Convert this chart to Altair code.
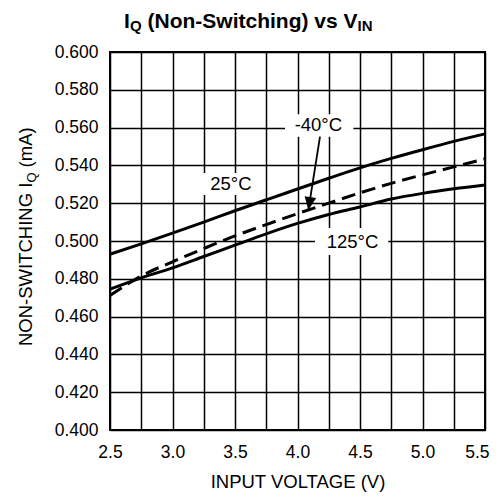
import altair as alt
import pandas as pd

# ---- data ----
vin = [2.5, 2.75, 3.0, 3.25, 3.5, 3.75, 4.0, 4.25, 4.5, 4.75, 5.0, 5.25, 5.5]
iq_25 = [0.4930, 0.4985, 0.5042, 0.5100, 0.5160, 0.5218, 0.5275, 0.5332, 0.5387, 0.5437, 0.5483, 0.5527, 0.5567]
iq_m40 = [0.4712, 0.4815, 0.4890, 0.4960, 0.5027, 0.5087, 0.5145, 0.5200, 0.5255, 0.5305, 0.5350, 0.5392, 0.5435]
iq_125 = [0.4745, 0.4805, 0.4858, 0.4918, 0.4978, 0.5038, 0.5093, 0.5140, 0.5180, 0.5222, 0.5252, 0.5276, 0.5296]

x_grid = [2.5, 2.75, 3.0, 3.25, 3.5, 3.75, 4.0, 4.25, 4.5, 4.75, 5.0, 5.25, 5.5]
y_ticks = [0.400, 0.420, 0.440, 0.460, 0.480, 0.500, 0.520, 0.540, 0.560, 0.580, 0.600]

label_text = ["25°C", "-40°C", "125°C"]
label_x = [3.467, 4.167, 4.44]
label_y = [0.5300, 0.5614, 0.4996]
box_x1 = [3.22, 3.90, 4.14]
box_x2 = [3.70, 4.447, 4.726]
box_y1 = [0.5243, 0.5552, 0.4926]
box_y2 = [0.5360, 0.5670, 0.5069]

arrow_x = [4.18, 4.087]
arrow_y = [0.5552, 0.5164]

FONT = "Liberation Sans"

curves = pd.DataFrame({
    "vin": vin * 3,
    "iq": iq_25 + iq_m40 + iq_125,
    "series": ["25"] * len(vin) + ["-40"] * len(vin) + ["125"] * len(vin),
})
labels = pd.DataFrame({"t": label_text, "x": label_x, "y": label_y})
boxes = pd.DataFrame({"x": box_x1, "x2": box_x2, "y": box_y1, "y2": box_y2})
arrow = pd.DataFrame({"x": arrow_x, "y": arrow_y, "o": [0, 1]})
tip = pd.DataFrame({"x": [arrow_x[1]], "y": [arrow_y[1]]})

xs = alt.Scale(domain=[2.5, 5.5], nice=False, zero=False)
ys = alt.Scale(domain=[0.4, 0.6], nice=False, zero=False)

x_axis = alt.Axis(
    values=x_grid,
    labelExpr="(datum.value * 4) % 2 == 0 ? format(datum.value, '.1f') : ''",
    labelAlign={"condition": {"test": "datum.value >= 5.5", "value": "right"}, "value": "center"},
    labelOffset={"condition": {"test": "datum.value >= 5.5", "value": 4}, "value": 0},
    grid=True, ticks=False, domain=False, labelOverlap=False, labelFlush=False,
    labelFontSize=17.5, labelPadding=13, labelColor="black", labelFont=FONT,
    title="INPUT VOLTAGE (V)", titleFontSize=18.5, titleFontWeight="normal",
    titleColor="black", titleFont=FONT, titlePadding=12,
)
y_axis = alt.Axis(
    values=y_ticks, format=".3f",
    grid=True, ticks=False, domain=False, labelOverlap=False, labelFlush=False,
    labelFontSize=17.5, labelPadding=12, labelColor="black", labelFont=FONT,
    title="",
)


def X(field):
    return alt.X(field, scale=xs, axis=x_axis, title="INPUT VOLTAGE (V)")


def Y(field):
    return alt.Y(field, scale=ys, axis=y_axis, title="")


box_layer = alt.Chart(boxes).mark_rect(color="white").encode(
    x=X("x:Q"), x2="x2:Q", y=Y("y:Q"), y2="y2:Q",
)

solid = alt.Chart(curves).transform_filter("datum.series != '-40'").mark_line(
    color="black", strokeWidth=3, interpolate="monotone"
).encode(x=X("vin:Q"), y=Y("iq:Q"), detail="series:N")

dashed = alt.Chart(curves).transform_filter("datum.series == '-40'").mark_line(
    color="black", strokeWidth=3, strokeDash=[14, 7], interpolate="monotone"
).encode(x=X("vin:Q"), y=Y("iq:Q"))

label_layer = alt.Chart(labels).mark_text(
    font=FONT, fontSize=18.5, color="black", align="center", baseline="middle"
).encode(x=X("x:Q"), y=Y("y:Q"), text="t:N")

arrow_line = alt.Chart(arrow).mark_line(color="black", strokeWidth=1.8).encode(
    x=X("x:Q"), y=Y("y:Q"), order="o:Q",
)
arrow_head = alt.Chart(tip).mark_point(
    shape="M0,0L-0.45,-1L0.45,-1Z", size=676, filled=True, color="black",
    opacity=1, angle=9,
).encode(x=X("x:Q"), y=Y("y:Q"))


def txt(s, x, y, size, weight="normal", angle=0):
    kw = dict(font=FONT, fontSize=size, fontWeight=weight, color="black",
              align="left", baseline="alphabetic")
    if angle:
        kw["angle"] = angle
    return alt.Chart(pd.DataFrame({"t": [s]})).mark_text(**kw).encode(
        x=alt.value(x), y=alt.value(y), text="t:N"
    )


title_parts = [
    txt("I", 14, -24.5, 21, "bold"),
    txt("Q", 20, -21, 15, "bold"),
    txt("(Non-Switching) vs V", 37.5, -24.5, 21, "bold"),
    txt("IN", 247.5, -21, 15, "bold"),
]
ytitle_parts = [
    txt("NON-SWITCHING I", -78, 294, 18.5, angle=270),
    txt("Q", -74, 130.6, 13, angle=270),
    txt("(mA)", -78, 115.4, 18.5, angle=270),
]

chart = alt.layer(
    box_layer, solid, dashed, label_layer, arrow_line, arrow_head,
    *title_parts, *ytitle_parts,
).properties(
    width=375, height=378,
    padding={"left": 102, "top": 44, "right": 5, "bottom": 66},
    autosize=alt.AutoSizeParams(type="none"),
).configure_view(
    stroke="black", strokeWidth=2
).configure_axis(
    gridColor="black", gridOpacity=1, gridWidth=1.5
)

chart.save("out.html", embed_options={"renderer": "svg", "actions": False})
